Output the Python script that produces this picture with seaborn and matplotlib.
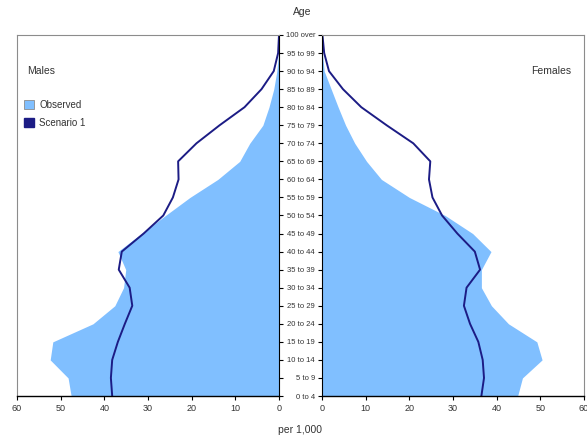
import numpy as np
import matplotlib
matplotlib.use("Agg")
import matplotlib.pyplot as plt
from matplotlib.patches import Patch
import seaborn as sns

sns.set_style("white")
plt.rcParams['font.family'] = ['Liberation Sans', 'DejaVu Sans']

# Age groups, bottom to top
age_labels = ['0 to 4', '5 to 9', '10 to 14', '15 to 19', '20 to 24', '25 to 29',
              '30 to 34', '35 to 39', '40 to 44', '45 to 49', '50 to 54', '55 to 59',
              '60 to 64', '65 to 69', '70 to 74', '75 to 79', '80 to 84', '85 to 89',
              '90 to 94', '95 to 99', '100 over']

# per 1,000 population
males_observed = [47.6, 48.3, 52.4, 51.8, 42.6, 37.6, 35.6, 35.1, 36.9, 31.5, 26.0,
                  20.4, 14.0, 9.0, 6.7, 3.7, 2.3, 1.2, 0.5, 0.1, 0.0]
males_scenario = [38.2, 38.5, 38.2, 36.9, 35.3, 33.6, 34.2, 36.7, 36.0, 31.0, 26.5,
                  24.3, 23.0, 23.1, 18.9, 13.6, 7.9, 4.0, 1.2, 0.2, 0.0]
females_observed = [44.8, 45.9, 50.4, 49.2, 42.7, 38.8, 36.5, 36.5, 38.7, 34.5, 28.2,
                    20.0, 13.6, 10.2, 7.5, 5.4, 3.7, 2.1, 0.5, 0.1, 0.0]
females_scenario = [36.5, 37.1, 36.8, 35.8, 33.9, 32.5, 33.1, 36.2, 35.0, 31.0, 27.5,
                    25.3, 24.5, 24.8, 20.9, 14.8, 9.0, 4.8, 1.6, 0.5, 0.1]

OBS_COLOR = '#80BFFF'
SCEN_COLOR = '#1C1C85'
GRAY = '#8C8C8C'

idx = np.arange(len(age_labels))

fig = plt.figure(figsize=(5.87, 4.40), dpi=100)
ax_m = fig.add_axes([17 / 587, 44 / 440, 262 / 587, 361 / 440])
ax_f = fig.add_axes([322 / 587, 44 / 440, 262 / 587, 361 / 440])

for ax, obs, scen in [(ax_m, males_observed, males_scenario),
                      (ax_f, females_observed, females_scenario)]:
    ax.fill_betweenx(idx, 0, obs, color=OBS_COLOR, linewidth=0)
    sns.lineplot(x=scen, y=idx, orient='y', sort=False, color=SCEN_COLOR,
                 linewidth=1.4, ax=ax)
    ax.set_ylim(0, 20)
    ax.set_xticks(range(0, 61, 10))
    ax.set_yticks(idx)
    ax.tick_params(axis='x', length=3, width=0.8, color='black', labelsize=6.5,
                   colors='#333333', pad=3)
    ax.tick_params(axis='y', length=3, width=0.8, color='black', labelsize=5.5,
                   colors='#333333', pad=2)
    ax.spines['bottom'].set_color('black')
    ax.spines['bottom'].set_linewidth(1.0)
    ax.spines['top'].set_color(GRAY)
    ax.set_xlabel('')
    ax.set_ylabel('')

# Males: reversed axis, ticks on inner (right) edge
ax_m.set_xlim(60, 0)
ax_m.yaxis.tick_right()
ax_m.set_yticklabels([])
ax_m.spines['left'].set_color(GRAY)
ax_m.spines['right'].set_color('black')
ax_m.tick_params(axis='y', right=True, left=False)
ax_m.tick_params(axis='x', bottom=True)

# Females: age labels on inner (left) edge
ax_f.set_xlim(0, 60)
ax_f.set_yticklabels(age_labels)
ax_f.spines['right'].set_color(GRAY)
ax_f.spines['left'].set_color('black')
ax_f.tick_params(axis='y', left=True, right=False)
ax_f.tick_params(axis='x', bottom=True)

ax_m.text(0.04, 0.9, 'Males', transform=ax_m.transAxes, fontsize=7.5,
          color='#333333', ha='left', va='center')
ax_f.text(0.95, 0.9, 'Females', transform=ax_f.transAxes, fontsize=7.5,
          color='#333333', ha='right', va='center')

handles = [Patch(facecolor=OBS_COLOR, edgecolor=GRAY, linewidth=0.6, label='Observed'),
           Patch(facecolor=SCEN_COLOR, edgecolor=SCEN_COLOR, label='Scenario 1')]
ax_m.legend(handles=handles, loc='upper left', bbox_to_anchor=(0.0, 0.84),
            frameon=False, fontsize=7, handlelength=1.0, handleheight=1.0,
            handletextpad=0.6, labelspacing=0.85, borderaxespad=0.3,
            labelcolor='#333333')

fig.text(302 / 587, 1 - 12 / 440, 'Age', ha='center', va='center', fontsize=7.5,
         color='#333333')
fig.text(300 / 587, 1 - 430 / 440, 'per 1,000', ha='center', va='center',
         fontsize=7.5, color='#333333')

fig.savefig('out.png', dpi=100)
